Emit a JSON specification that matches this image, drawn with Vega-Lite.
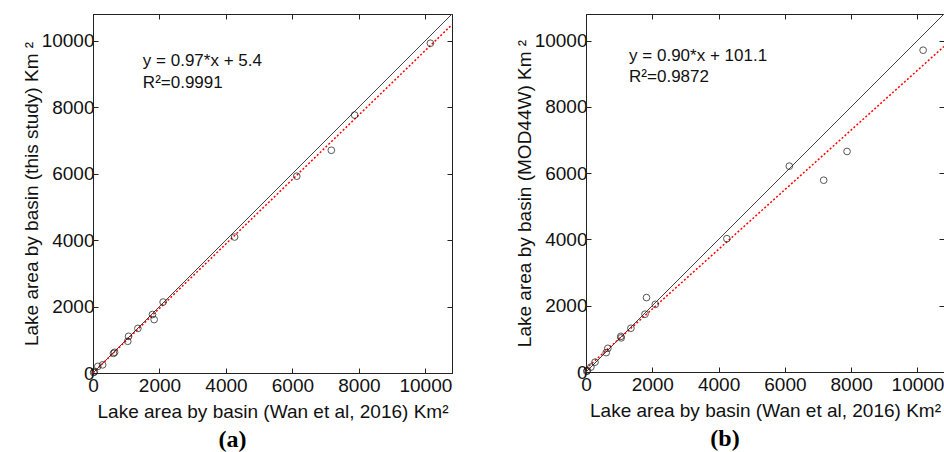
{
  "$schema": "https://vega.github.io/schema/vega-lite/v6.json",
  "background": "white",
  "padding": {"left": 21, "top": 13, "right": 0, "bottom": 0},
  "spacing": 61,
  "config": {
    "view": {"stroke": "#222", "strokeWidth": 1},
    "font": "Liberation Sans",
    "axis": {
      "grid": false,
      "domainColor": "#222",
      "tickColor": "#222",
      "labelColor": "#111",
      "titleColor": "#111",
      "labelFontSize": 19,
      "titleFontSize": 19,
      "titleFontWeight": "normal",
      "labelFont": "Liberation Sans",
      "titleFont": "Liberation Sans",
      "tickSize": -5,
      "labelFlush": false,
      "labelPadding": 4,
      "titlePadding": 0,
      "format": "d"
    },
    "axisBottom": {"labelPadding": 8, "titlePadding": 7},
    "title": {"font": "Liberation Serif", "fontSize": 24, "fontWeight": "bold", "color": "black"}
  },
  "hconcat": [
    {
      "width": 359,
      "height": 359,
      "title": {"text": "(a)", "orient": "bottom", "dx": -40, "offset": 7},
      "layer": [
        {
          "data": {"values": [{"x": 0, "y": 0}, {"x": 10800, "y": 10800}]},
          "mark": {"type": "line", "color": "#444", "strokeWidth": 1, "clip": true},
          "encoding": {
            "x": {"field": "x", "type": "quantitative", "scale": {"domain": [0, 10800], "nice": false}, "axis": {"orient": "top", "labels": false, "title": null, "values": [0, 2000, 4000, 6000, 8000, 10000]}},
            "y": {"field": "y", "type": "quantitative", "scale": {"domain": [0, 10800], "nice": false}, "axis": {"orient": "right", "labels": false, "title": null, "values": [0, 2000, 4000, 6000, 8000, 10000]}}
          }
        },
        {
          "data": {"values": [{"x": 0, "y": 5.4}, {"x": 10800, "y": 10481}]},
          "mark": {"type": "line", "color": "#ff0000", "strokeWidth": 1.5, "strokeDash": [2, 2], "clip": true},
          "encoding": {
            "x": {"field": "x", "type": "quantitative", "axis": null},
            "y": {"field": "y", "type": "quantitative", "axis": null}
          }
        },
        {
          "data": {"values": [
            {"x": 10150, "y": 9920}, {"x": 7870, "y": 7760}, {"x": 7170, "y": 6700}, {"x": 6130, "y": 5920},
            {"x": 4260, "y": 4090}, {"x": 2110, "y": 2135}, {"x": 1790, "y": 1760}, {"x": 1840, "y": 1607},
            {"x": 1350, "y": 1342}, {"x": 1070, "y": 1104}, {"x": 1045, "y": 954}, {"x": 650, "y": 622},
            {"x": 615, "y": 590}, {"x": 290, "y": 245}, {"x": 145, "y": 200}, {"x": 40, "y": 40}, {"x": 20, "y": 15}
          ]},
          "mark": {"type": "point", "shape": "circle", "filled": false, "color": "#111", "size": 45, "strokeWidth": 1},
          "encoding": {
            "x": {"field": "x", "type": "quantitative", "axis": {"orient": "bottom", "title": "Lake area by basin (Wan et al, 2016) Km²", "values": [0, 2000, 4000, 6000, 8000, 10000]}},
            "y": {"field": "y", "type": "quantitative", "axis": {"orient": "left", "title": "Lake area by basin (this study) Km ²", "values": [0, 2000, 4000, 6000, 8000, 10000]}}
          }
        },
        {
          "data": {"values": [
            {"x": 1500, "y": 9243, "label": "y = 0.97*x + 5.4"},
            {"x": 1500, "y": 8562, "label": "R²=0.9991"}
          ]},
          "mark": {"type": "text", "align": "left", "baseline": "alphabetic", "fontSize": 17, "font": "Liberation Sans", "color": "#111"},
          "encoding": {
            "x": {"field": "x", "type": "quantitative", "axis": null},
            "y": {"field": "y", "type": "quantitative", "axis": null},
            "text": {"field": "label"}
          }
        }
      ]
    },
    {
      "width": 358,
      "height": 358,
      "title": {"text": "(b)", "orient": "bottom", "dx": -40, "offset": 7},
      "layer": [
        {
          "data": {"values": [{"x": 0, "y": 0}, {"x": 10800, "y": 10800}]},
          "mark": {"type": "line", "color": "#444", "strokeWidth": 1, "clip": true},
          "encoding": {
            "x": {"field": "x", "type": "quantitative", "scale": {"domain": [0, 10800], "nice": false}, "axis": {"orient": "top", "labels": false, "title": null, "values": [0, 2000, 4000, 6000, 8000, 10000]}},
            "y": {"field": "y", "type": "quantitative", "scale": {"domain": [0, 10800], "nice": false}, "axis": {"orient": "right", "labels": false, "title": null, "values": [0, 2000, 4000, 6000, 8000, 10000]}}
          }
        },
        {
          "data": {"values": [{"x": 0, "y": 101.1}, {"x": 10800, "y": 9821}]},
          "mark": {"type": "line", "color": "#ff0000", "strokeWidth": 1.5, "strokeDash": [2, 2], "clip": true},
          "encoding": {
            "x": {"field": "x", "type": "quantitative", "axis": null},
            "y": {"field": "y", "type": "quantitative", "axis": null}
          }
        },
        {
          "data": {"values": [
            {"x": 10170, "y": 9708}, {"x": 7875, "y": 6653}, {"x": 7170, "y": 5786}, {"x": 6133, "y": 6210},
            {"x": 4250, "y": 4022}, {"x": 2090, "y": 2040}, {"x": 1780, "y": 1744}, {"x": 1825, "y": 2245},
            {"x": 1355, "y": 1320}, {"x": 1050, "y": 1075}, {"x": 1060, "y": 1030}, {"x": 660, "y": 715},
            {"x": 610, "y": 585}, {"x": 272, "y": 297}, {"x": 148, "y": 150}, {"x": 40, "y": 45}, {"x": 25, "y": 20}
          ]},
          "mark": {"type": "point", "shape": "circle", "filled": false, "color": "#111", "size": 45, "strokeWidth": 1},
          "encoding": {
            "x": {"field": "x", "type": "quantitative", "axis": {"orient": "bottom", "title": "Lake area by basin (Wan et al, 2016) Km²", "values": [0, 2000, 4000, 6000, 8000, 10000]}},
            "y": {"field": "y", "type": "quantitative", "axis": {"orient": "left", "title": "Lake area by basin (MOD44W) Km ²", "values": [0, 2000, 4000, 6000, 8000, 10000]}}
          }
        },
        {
          "data": {"values": [
            {"x": 1300, "y": 9395, "label": "y = 0.90*x + 101.1"},
            {"x": 1300, "y": 8739, "label": "R²=0.9872"}
          ]},
          "mark": {"type": "text", "align": "left", "baseline": "alphabetic", "fontSize": 17, "font": "Liberation Sans", "color": "#111"},
          "encoding": {
            "x": {"field": "x", "type": "quantitative", "axis": null},
            "y": {"field": "y", "type": "quantitative", "axis": null},
            "text": {"field": "label"}
          }
        }
      ]
    }
  ]
}
